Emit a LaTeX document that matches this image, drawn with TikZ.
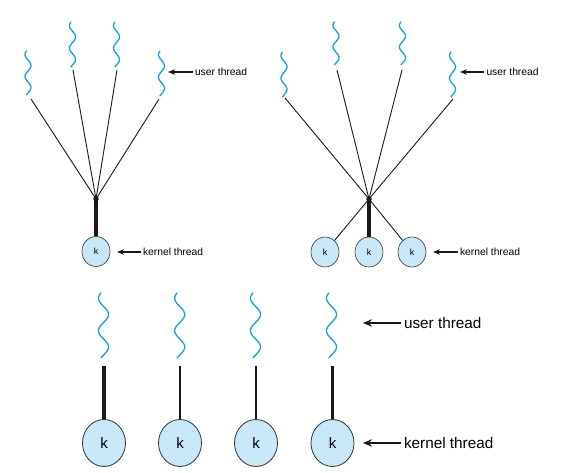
\documentclass[tikz,border=0pt]{standalone}
\usepackage{fontspec}
\setmainfont{Liberation Sans}
\usetikzlibrary{arrows.meta,shapes.geometric}
\definecolor{squigblue}{RGB}{20,160,225}
\definecolor{kfill}{RGB}{200,232,248}
\newcommand\squiggle[4]{%
  \draw[squig] plot[domain=0:1,samples=80,smooth,variable=\t]
    ({#1 - #4*sin(720*\t+32)}, {#2 + #3*\t});}
\begin{document}
\begin{tikzpicture}[x=1pt,y=-1pt,
  squig/.style={draw=squigblue, line width=1.3pt, line cap=round},
  thinline/.style={draw=black!90, line width=0.9pt},
  thickline/.style={draw=black!90, line width=3.2pt},
  midline/.style={draw=black!90, line width=1.8pt},
  junction/.style={circle, fill=black!90, inner sep=0pt, minimum size=5.5pt},
  ksmall/.style={ellipse, draw=black!80, line width=0.6pt, fill=kfill, inner sep=0pt,
    minimum width=28pt, minimum height=30pt, font=\fontsize{9}{10}\selectfont},
  kbig/.style={ellipse, draw=black!80, line width=0.8pt, fill=kfill, inner sep=0pt,
    minimum width=43pt, minimum height=47pt, font=\fontsize{15}{17}\selectfont},
  lblsmall/.style={anchor=west, inner sep=0pt, outer sep=2.5pt, font=\fontsize{10.3}{12}\selectfont},
  lblbig/.style={anchor=west, inner sep=0pt, outer sep=3pt, font=\fontsize{15.3}{17}\selectfont},
  arrsmall/.style={draw=black!90, line width=1.8pt, -{Stealth[length=7pt,width=5.5pt]}},
  arrbig/.style={draw=black!90, line width=2.6pt, -{Stealth[length=9pt,width=7.5pt]}}
]
\useasboundingbox (0,0) rectangle (575,473);

% ---------- top-left: many-to-one ----------
\squiggle{28}{51}{44}{3}
\squiggle{72.5}{22}{45}{3}
\squiggle{116.5}{22}{45}{3}
\squiggle{161.5}{51}{45}{3}
\coordinate (ua1) at (31,99);
\coordinate (ua2) at (73,70);
\coordinate (ua3) at (117,70);
\coordinate (ua4) at (159,99);
\node[junction] (ja) at (96,199) {};
\node[ksmall] (ka) at (96,251.5) {k};
\foreach \i in {1,...,4} \draw[thinline] (ua\i) -- (ja.center);
\draw[thickline] (ja.center) -- (ka);
\node[lblsmall] (ula) at (192.5,72) {user thread};
\coordinate (ulat) at (168,72);
\draw[arrsmall] (ula.west) -- (ulat);
\node[lblsmall] (kla) at (140.5,252) {kernel thread};
\coordinate (klat) at (117,252);
\draw[arrsmall] (kla.west) -- (klat);

% ---------- top-right: many-to-many ----------
\squiggle{284}{52}{45}{3}
\squiggle{336}{22}{43}{3}
\squiggle{402.5}{22}{43}{3}
\squiggle{452.5}{52}{45}{3}
\coordinate (ub1) at (285,98);
\coordinate (ub2) at (337,70);
\coordinate (ub3) at (402,70);
\coordinate (ub4) at (453,99);
\node[junction] (jb) at (369,199) {};
\node[ksmall] (kb1) at (325,252) {k};
\node[ksmall] (kb2) at (369,252) {k};
\node[ksmall] (kb3) at (412,252) {k};
\foreach \i in {1,...,4} \draw[thinline] (ub\i) -- (jb.center);
\draw[thinline] (jb.center) -- (kb1);
\draw[thickline] (jb.center) -- (kb2);
\draw[thinline] (jb.center) -- (kb3);
\node[lblsmall] (ulb) at (484,72) {user thread};
\coordinate (ulbt) at (460,72);
\draw[arrsmall] (ulb.west) -- (ulbt);
\node[lblsmall] (klb) at (457.5,252) {kernel thread};
\coordinate (klbt) at (433,252);
\draw[arrsmall] (klb.west) -- (klbt);

% ---------- bottom: one-to-one ----------
\squiggle{103.5}{293}{65}{5}
\squiggle{179.7}{293}{65}{5}
\squiggle{255.5}{293}{65}{5}
\squiggle{331.5}{293}{65}{5}
\coordinate (uc1) at (104,366);
\coordinate (uc2) at (180,366);
\coordinate (uc3) at (256,366);
\coordinate (uc4) at (332.5,366);
\node[kbig] (kc1) at (104,443) {k};
\node[kbig] (kc2) at (180,443) {k};
\node[kbig] (kc3) at (256,443) {k};
\node[kbig] (kc4) at (332.5,443) {k};
\draw[thickline] (uc1) -- (kc1);
\draw[midline] (uc2) -- (kc2);
\draw[midline] (uc3) -- (kc3);
\draw[thickline] (uc4) -- (kc4);
\node[lblbig] (ulc) at (401,323) {user thread};
\coordinate (ulct) at (363,323);
\draw[arrbig] (ulc.west) -- (ulct);
\node[lblbig] (klc) at (401,443) {kernel thread};
\coordinate (klct) at (363,443);
\draw[arrbig] (klc.west) -- (klct);
\end{tikzpicture}
\end{document}
